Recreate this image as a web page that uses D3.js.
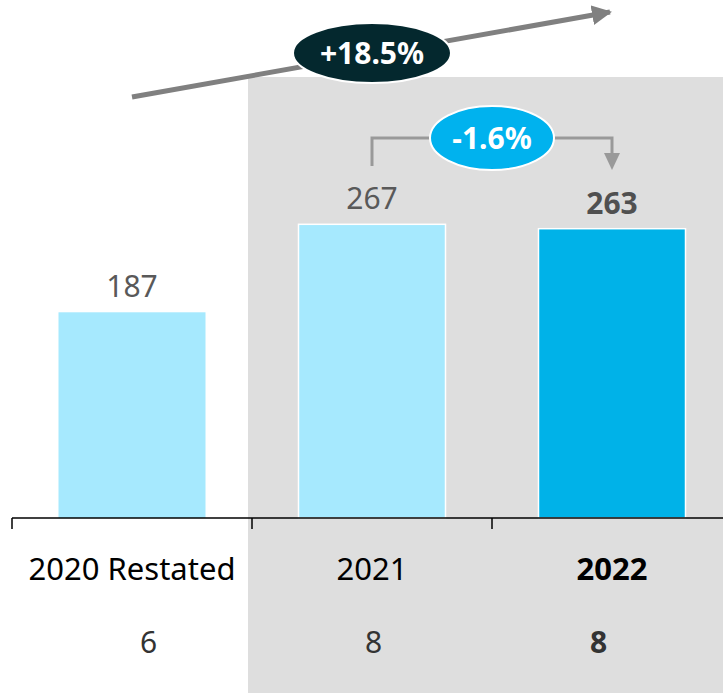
<!DOCTYPE html>
<html>
<head>
<meta charset="utf-8">
<script src="https://cdn.jsdelivr.net/npm/d3@7"></script>
<style>
  html, body { margin: 0; padding: 0; background: #fff; }
  svg { display: block; font-family: "Noto Sans", sans-serif; }
</style>
</head>
<body>
<div id="chart"></div>
<script>
const categories = ["2020 Restated", "2021", "2022"];
const values = [187, 267, 263];
const counts = [6, 8, 8];
const highlighted = [false, false, true];
const totalChange = "+18.5%";
const yearChange = "-1.6%";

const width = 723;
const height = 693;
const baseline = 518;

const svg = d3.select("#chart").append("svg")
  .attr("width", width)
  .attr("height", height);

// outer band = category slot (ticks), inner band = bar
const xSlot = d3.scaleBand(categories, [12, 732]);
const xBar = d3.scaleBand(categories, [12, 732])
  .paddingInner(0.3875)
  .paddingOuter(0.19375);
// the count row sits in its own, slightly narrower table
const xCount = d3.scaleBand(categories, [36, 711]);
const y = d3.scaleLinear([0, 400], [baseline, 78]);
const center = c => xBar(c) + xBar.bandwidth() / 2;

// shaded comparison area
svg.append("rect")
  .attr("x", xSlot("2021") - 4)
  .attr("y", 77)
  .attr("width", width - xSlot("2021") + 4)
  .attr("height", height - 77)
  .attr("fill", "#dedede");

// bars
svg.selectAll(".bar")
  .data(categories)
  .join("rect")
  .attr("class", "bar")
  .attr("x", d => xBar(d))
  .attr("y", (d, i) => y(values[i]))
  .attr("width", xBar.bandwidth())
  .attr("height", (d, i) => y(0) - y(values[i]))
  .attr("fill", (d, i) => highlighted[i] ? "#00b2e8" : "#a6e9fe")
  .attr("stroke", (d, i) => i > 0 ? "#fff" : "none")
  .attr("stroke-width", 1.5);

// value labels
svg.selectAll(".value")
  .data(categories)
  .join("text")
  .attr("class", "value")
  .attr("x", d => center(d))
  .attr("y", (d, i) => y(values[i]) - 15)
  .attr("text-anchor", "middle")
  .attr("font-size", 30)
  .attr("font-weight", (d, i) => highlighted[i] ? "bold" : "normal")
  .attr("fill", (d, i) => highlighted[i] ? "#505050" : "#595959")
  .text((d, i) => values[i]);

// axis line + slot ticks
svg.append("line")
  .attr("x1", xSlot(categories[0])).attr("x2", width)
  .attr("y1", baseline).attr("y2", baseline)
  .attr("stroke", "#000").attr("stroke-width", 1.5);
svg.selectAll(".tick")
  .data(categories)
  .join("line")
  .attr("class", "tick")
  .attr("x1", d => xSlot(d)).attr("x2", d => xSlot(d))
  .attr("y1", baseline).attr("y2", baseline + 11)
  .attr("stroke", "#000").attr("stroke-width", 1.5);

// category labels
svg.selectAll(".cat")
  .data(categories)
  .join("text")
  .attr("class", "cat")
  .attr("x", d => center(d))
  .attr("y", 580)
  .attr("text-anchor", "middle")
  .attr("font-size", 31)
  .attr("font-weight", (d, i) => highlighted[i] ? "bold" : "normal")
  .attr("fill", "#000")
  .text(d => d);

// count row
svg.selectAll(".count")
  .data(categories)
  .join("text")
  .attr("class", "count")
  .attr("x", d => xCount(d) + xCount.bandwidth() / 2)
  .attr("y", 653)
  .attr("text-anchor", "middle")
  .attr("font-size", 30)
  .attr("font-weight", (d, i) => highlighted[i] ? "bold" : "normal")
  .attr("fill", "#333")
  .text((d, i) => counts[i]);

// arrowheads
const defs = svg.append("defs");
defs.append("marker")
  .attr("id", "head-big")
  .attr("viewBox", "0 0 10 10")
  .attr("refX", 9).attr("refY", 5)
  .attr("markerWidth", 4).attr("markerHeight", 4)
  .attr("markerUnits", "strokeWidth")
  .attr("orient", "auto")
  .append("path").attr("d", "M0,0L10,5L0,10Z").attr("fill", "#808080");

// overall growth arrow
const gx0 = center(categories[0]);
const gx1 = center(categories[2]);
svg.append("line")
  .attr("x1", gx0).attr("y1", 97)
  .attr("x2", gx1 - 2).attr("y2", 12)
  .attr("stroke", "#808080")
  .attr("stroke-width", 5)
  .attr("marker-end", "url(#head-big)");

const bubble = (cx, cy, rx, ry, fill, label) => {
  svg.append("ellipse")
    .attr("cx", cx).attr("cy", cy)
    .attr("rx", rx).attr("ry", ry)
    .attr("fill", fill)
    .attr("stroke", "#fff").attr("stroke-width", 2);
  svg.append("text")
    .attr("x", cx).attr("y", cy + 11)
    .attr("text-anchor", "middle")
    .attr("font-size", 30)
    .attr("font-weight", "bold")
    .attr("fill", "#fff")
    .text(label);
};

bubble(center(categories[1]), 53, 79, 30, "#04282e", totalChange);

// year-on-year bracket
const bx0 = center(categories[1]);
const bx1 = center(categories[2]);
svg.append("path")
  .attr("d", `M${bx0},166V138H${bx1}V154`)
  .attr("fill", "none")
  .attr("stroke", "#999")
  .attr("stroke-width", 3);
svg.append("path")
  .attr("d", `M${bx1 - 8},153L${bx1 + 8},153L${bx1},170Z`)
  .attr("fill", "#999");

bubble((bx0 + bx1) / 2, 138, 62, 32, "#00b2ee", yearChange);
</script>
</body>
</html>
